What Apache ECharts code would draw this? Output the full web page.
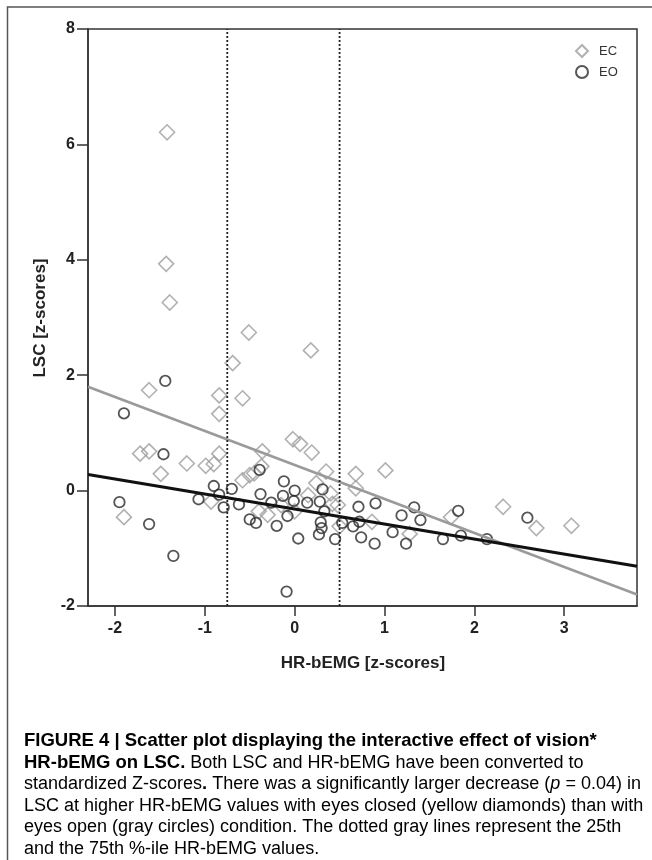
<!DOCTYPE html>
<html>
<head>
<meta charset="utf-8">
<script src="https://cdn.jsdelivr.net/npm/echarts@6/dist/echarts.min.js"></script>
<style>
html,body{margin:0;padding:0;background:#fff;}
#chart{width:652px;height:860px;}
</style>
</head>
<body>
<div id="chart"></div>
<script>
// ---- data ----
const xTicks = [-2, -1, 0, 1, 2, 3];
const yTicks = [-2, 0, 2, 4, 6, 8];
const seriesNames = ['EC', 'EO'];

const ecX = [-1.42, -1.43, -1.39, -0.51, 0.18, -0.69, -1.62, -0.84, -0.58, -0.84,
             -0.02, 0.06, 0.19, -1.72, -1.62, -0.84, -0.36, -1.20, -0.99, -0.90,
             -0.37, -1.49, -0.50, -0.45, -0.58, 0.35, 0.68, 1.01, 0.68, 0.24,
             -1.90, -0.93, -0.30, -0.40, 0.00, 0.15, 0.48, 0.50, 0.42, 0.86,
             1.28, 1.74, 2.32, 2.69, 3.08, -0.15, 0.40];
const ecY = [6.21, 3.93, 3.26, 2.74, 2.43, 2.21, 1.74, 1.65, 1.60, 1.33,
             0.89, 0.81, 0.66, 0.64, 0.68, 0.64, 0.68, 0.47, 0.43, 0.46,
             0.42, 0.29, 0.27, 0.30, 0.18, 0.33, 0.29, 0.35, 0.04, 0.13,
             -0.46, -0.19, -0.42, -0.36, -0.36, -0.08, -0.25, -0.62, -0.23, -0.54,
             -0.75, -0.46, -0.28, -0.65, -0.61, -0.25, -0.05];

const eoX = [-1.44, -1.90, -1.46, -1.95, -1.62, -1.35, -1.07, -0.90, -0.84, -0.79,
             -0.70, -0.62, -0.39, -0.38, -0.50, -0.43, -0.26, -0.20, -0.12, -0.13,
             -0.08, 0.00, -0.01, 0.04, 0.14, 0.28, 0.31, 0.29, 0.30, 0.27,
             0.33, 0.45, 0.53, 0.65, 0.71, 0.72, 0.74, 0.89, 0.90, 1.09,
             1.19, 1.33, 1.40, 1.24, 1.65, 1.85, 1.82, 2.14, 2.59, -0.09];
const eoY = [1.90, 1.34, 0.63, -0.20, -0.58, -1.13, -0.15, 0.08, -0.07, -0.29,
             0.03, -0.24, 0.36, -0.06, -0.50, -0.56, -0.21, -0.61, 0.16, -0.09,
             -0.44, 0.00, -0.18, -0.83, -0.21, -0.19, 0.02, -0.55, -0.65, -0.76,
             -0.36, -0.84, -0.56, -0.62, -0.28, -0.54, -0.81, -0.92, -0.22, -0.72,
             -0.43, -0.29, -0.51, -0.92, -0.84, -0.78, -0.35, -0.84, -0.47, -1.75];

// fit-line end points (x, y)
const fitX = [-2.30, 3.81];
const ecFitY = [1.80, -1.80];
const eoFitY = [0.28, -1.31];

// percentile reference lines (25th, 75th)
const pctX = [-0.75, 0.50];

const xRange = [-2.30, 3.81];
const yRange = [-2, 8];

const captionLines = [
  '{b|FIGURE 4 | Scatter plot displaying the interactive effect of vision*}',
  '{b|HR-bEMG on LSC.}{n| Both LSC and HR-bEMG have been converted to}',
  '{n|standardized Z-scores}{b|.}{n| There was a significantly larger decrease (}{i|p}{n| = 0.04) in}',
  '{n|LSC at higher HR-bEMG values with eyes closed (yellow diamonds) than with}',
  '{n|eyes open (gray circles) condition. The dotted gray lines represent the 25th}',
  '{n|and the 75th %-ile HR-bEMG values.}'
];

// ---- chart ----
const zip = (a, b) => a.map((v, i) => [v, b[i]]);
const chart = echarts.init(document.getElementById('chart'), null, {renderer: 'canvas'});

const tickFont = "'Liberation Sans', Arial, sans-serif";
const capFont = "'Liberation Sans', Arial, sans-serif";
const capRich = {
  b: {fontFamily: capFont, fontSize: 18.5, fontWeight: 'bold', color: '#222'},
  n: {fontFamily: capFont, fontSize: 18, color: '#3a3a3a'},
  i: {fontFamily: capFont, fontSize: 18, fontStyle: 'italic', color: '#3a3a3a'}
};

const graphics = [
  {type: 'rect', shape: {x: 7.5, y: 7, width: 800, height: 1000},
   style: {fill: 'none', stroke: '#555', lineWidth: 1.5}, silent: true, z: 0},
  {type: 'text', x: 40, y: 318, rotation: Math.PI / 2,
   style: {text: 'LSC [z-scores]', fontFamily: capFont, fontSize: 17, fontWeight: 'bold',
           fill: '#222', align: 'center', verticalAlign: 'middle'}},
  {type: 'text', x: 363, y: 663,
   style: {text: 'HR-bEMG [z-scores]', fontFamily: capFont, fontSize: 17, fontWeight: 'bold',
           fill: '#222', align: 'center', verticalAlign: 'middle'}}
];
captionLines.forEach((t, k) => {
  graphics.push({type: 'text', x: 24, y: 741 + k * 21.6,
    style: {text: t, rich: capRich, align: 'left', verticalAlign: 'middle'}});
});

const option = {
  animation: false,
  backgroundColor: '#fff',
  grid: {left: 88, right: 15, top: 29, bottom: 254, show: true,
         borderColor: '#333', borderWidth: 1.5, backgroundColor: 'transparent'},
  legend: {
    data: [
      {name: seriesNames[0], icon: 'diamond'},
      {name: seriesNames[1], icon: 'circle'}
    ],
    orient: 'vertical', left: 575, top: 44, padding: 0,
    itemWidth: 12, itemHeight: 12, itemGap: 7,
    textStyle: {fontFamily: tickFont, fontSize: 13, color: '#333', padding: [0, 0, 0, 6]}
  },
  xAxis: {
    type: 'value', min: xRange[0], max: xRange[1],
    axisLine: {show: true, onZero: false, lineStyle: {color: '#333', width: 1.5}},
    axisTick: {show: true, length: 10, inside: false, customValues: xTicks,
               lineStyle: {color: '#333', width: 1.5}},
    axisLabel: {customValues: xTicks, margin: 15, fontFamily: tickFont, fontWeight: 'bold',
                fontSize: 16, color: '#222'},
    splitLine: {show: false}
  },
  yAxis: {
    type: 'value', min: yRange[0], max: yRange[1], interval: 2,
    axisLine: {show: true, onZero: false, lineStyle: {color: '#333', width: 1.5}},
    axisTick: {show: true, length: 11, inside: false, lineStyle: {color: '#333', width: 1.5}},
    axisLabel: {margin: 13, fontFamily: tickFont, fontWeight: 'bold', fontSize: 16, color: '#222'},
    splitLine: {show: false}
  },
  graphic: graphics,
  series: [
    {name: seriesNames[0], type: 'scatter', symbol: 'diamond', symbolSize: 15,
     data: zip(ecX, ecY),
     itemStyle: {color: 'rgba(255,255,255,0)', borderColor: '#9e9e9e', borderWidth: 1.6}, z: 2},
    {name: seriesNames[1], type: 'scatter', symbol: 'circle', symbolSize: 10.5,
     data: zip(eoX, eoY),
     itemStyle: {color: 'rgba(255,255,255,0)', borderColor: '#2a2a2a', borderWidth: 1.8}, z: 3},
    {name: 'EC fit', type: 'line', data: zip(fitX, ecFitY), showSymbol: false,
     lineStyle: {color: '#9a9a9a', width: 2.6}, z: 4, silent: true},
    {name: 'EO fit', type: 'line', data: zip(fitX, eoFitY), showSymbol: false,
     lineStyle: {color: '#111', width: 3}, z: 5, silent: true},
    {name: 'P25', type: 'line', data: [[pctX[0], yRange[0]], [pctX[0], yRange[1]]], showSymbol: false,
     lineStyle: {color: '#222', width: 1.8, type: [2, 2]}, z: 6, silent: true},
    {name: 'P75', type: 'line', data: [[pctX[1], yRange[0]], [pctX[1], yRange[1]]], showSymbol: false,
     lineStyle: {color: '#222', width: 1.8, type: [2, 2]}, z: 6, silent: true}
  ]
};
chart.setOption(option);
</script>
</body>
</html>
